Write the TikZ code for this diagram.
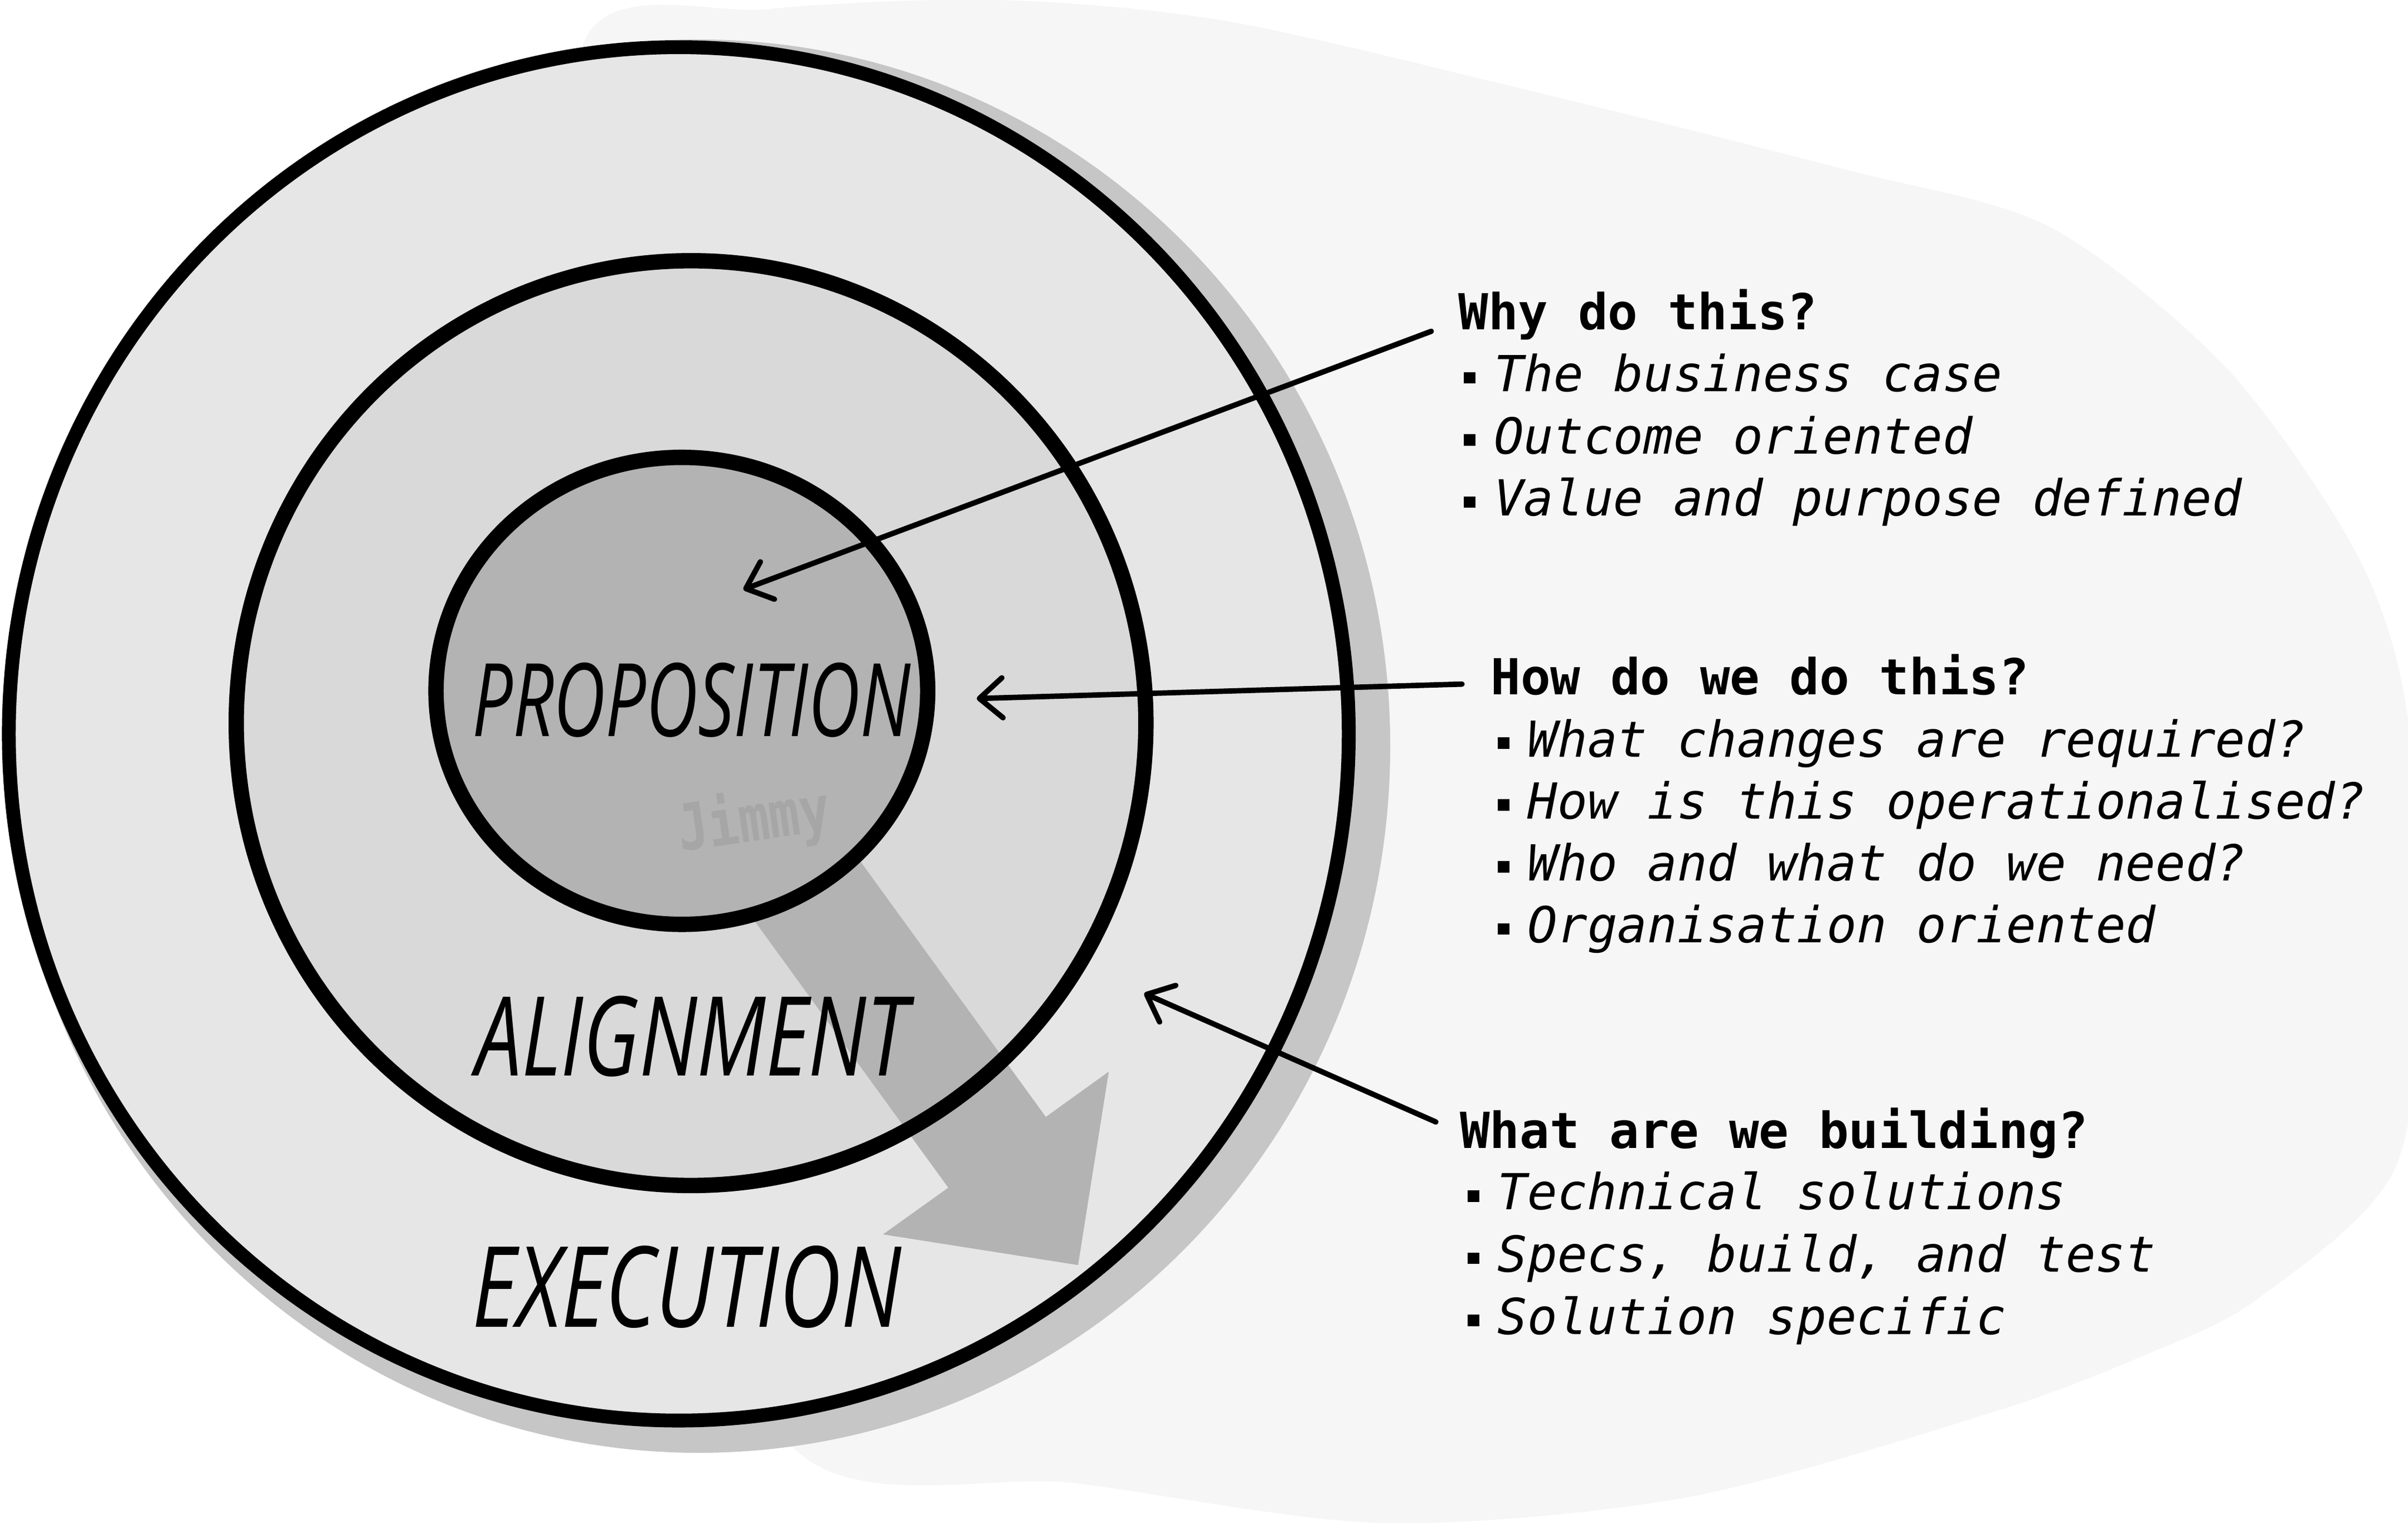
\documentclass[tikz,border=0pt]{standalone}
\usepackage{fontspec}
\usepackage{graphicx}
\usetikzlibrary{arrows.meta}
\newfontfamily\notefont{DejaVu Sans Mono}
\newfontfamily\handfont{Open Sans}
\definecolor{wash}{HTML}{F6F6F6}
\definecolor{smudge}{HTML}{C6C6C6}
\definecolor{outerfill}{HTML}{E6E6E6}
\definecolor{midfill}{HTML}{D9D9D9}
\definecolor{corefill}{HTML}{B3B3B3}
\definecolor{stamp}{HTML}{A6A6A6}
\newcommand{\bul}{\rule[0.052cm]{0.075cm}{0.075cm}\hspace{0.12cm}}
\newcommand{\stage}[3]{\resizebox{#1}{#2}{\handfont\itshape #3}}
\tikzset{
    ring/.style={line width=0.1cm, line join=round},
    pointer/.style={line width=1pt, line cap=round, -{Straight Barb[length=1.5mm, width=2.6mm, round]}},
    head/.style={anchor=base west, inner sep=0pt, font=\notefont\bfseries\fontsize{9.2}{11}\selectfont},
    item/.style={anchor=base west, inner sep=0pt, font=\notefont\itshape\fontsize{9.2}{11}\selectfont},
    label/.style={anchor=south west, inner sep=0pt}
}
\begin{document}
\begin{tikzpicture}[x=0.01cm, y=-0.01cm]
    \useasboundingbox (0,0) rectangle (1568,992);
    \fill[white] (0,0) rectangle (1568,992);
    \fill[wash] plot[smooth cycle] coordinates {(380,28) (500,6) (650,0) (800,14) (1000,60) (1200,110) (1335,148)
        (1450,240) (1532,356) (1565,450) (1578,600) (1560,760) (1470,846) (1398,882) (1300,919) (1100,975)
        (900,992) (700,966) (520,946) (400,700) (380,300)};
    \fill[smudge] (455,486) ellipse [x radius=4.5cm, y radius=4.6cm];
    \fill[outerfill] (442,478) ellipse [x radius=4.36cm, y radius=4.47cm];
    \fill[midfill] (450,471) ellipse [x radius=2.96cm, y radius=3.01cm];
    \fill[corefill] (445,536) -- (617.5,773.6) -- (575,804) -- (702,824) -- (722,698) -- (681,727.5) -- (514.5,498) -- cycle;
    \fill[corefill] (444,450) ellipse [x radius=1.6cm, y radius=1.52cm];
    \node[rotate=8, text=stamp, inner sep=0pt] (stamp) at (491,535) {\resizebox{1cm}{0.34cm}{\notefont\bfseries Jimmy}};
    \draw[ring, line width=0.09cm] (442,478) ellipse [x radius=4.36cm, y radius=4.47cm];
    \draw[ring] (450,471) ellipse [x radius=2.96cm, y radius=3.01cm];
    \draw[ring] (444,450) ellipse [x radius=1.6cm, y radius=1.52cm];
    \path   node[label] (prop) at (307,481) {\stage{2.85cm}{0.48cm}{PROPOSITION}}
            node[label] (align) at (309,702) {\stage{2.81cm}{0.52cm}{ALIGNMENT}}
            node[label] (exec) at (307,866) {\stage{2.79cm}{0.53cm}{EXECUTION}};
    \path   node[head] (why) at (949,214.8) {Why do this?}
            node[item] (why1) at (952.6,255) {\bul The business case}
            node[item] (why2) at (952.6,295.5) {\bul Outcome oriented}
            node[item] (why3) at (952.6,336) {\bul Value and purpose defined}
            node[head] (how) at (970,452.6) {How do we do this?}
            node[item] (how1) at (974.6,493) {\bul What changes are required?}
            node[item] (how2) at (974.6,533.3) {\bul How is this operationalised?}
            node[item] (how3) at (974.6,573.6) {\bul Who and what do we need?}
            node[item] (how4) at (974.6,614) {\bul Organisation oriented}
            node[head] (what) at (950,747.8) {What are we building?}
            node[item] (what1) at (955,788) {\bul Technical solutions}
            node[item] (what2) at (955,828.5) {\bul Specs, build, and test}
            node[item] (what3) at (955,869) {\bul Solution specific};
    \coordinate (propPt) at (484,384);
    \coordinate (alignPt) at (636,455);
    \coordinate (execPt) at (745,647);
    \draw[pointer] ([xshift=-0.17cm, yshift=-0.01cm]why.base west) -- (propPt);
    \draw[pointer] ([xshift=-0.18cm, yshift=0.07cm]how.base west) -- (alignPt);
    \draw[pointer] ([xshift=-0.15cm, yshift=0.17cm]what.base west) -- (execPt);
\end{tikzpicture}
\end{document}
